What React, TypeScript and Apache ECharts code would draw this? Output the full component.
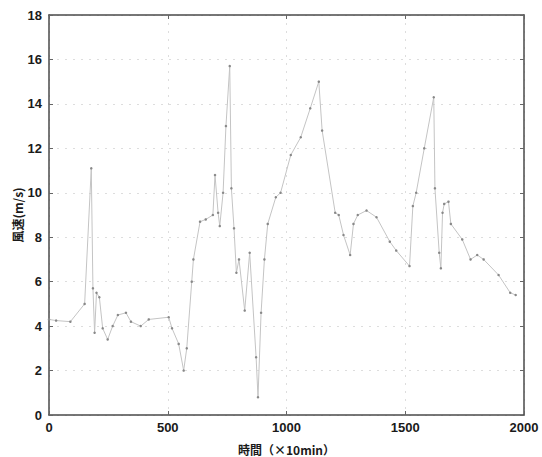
import React, { useEffect, useRef } from "react";
import * as echarts from "echarts";

const timeX = [0, 30, 90, 150, 178, 185, 192, 200, 212, 226, 247, 268, 290, 324, 345, 386, 420, 504, 518, 546, 567, 580, 601, 608, 636, 660, 690, 699, 712, 719, 733, 745, 761, 768, 779, 789, 800, 824, 845, 872, 880, 893, 907, 921, 955, 975, 1018, 1060, 1100, 1136, 1150, 1205, 1220, 1240, 1268, 1282, 1300, 1337, 1379, 1435, 1462, 1518, 1532, 1546, 1580, 1620, 1625, 1643, 1650, 1657, 1664, 1682, 1692, 1740, 1775, 1803, 1830, 1893, 1942, 1965];
const windSpeed = [4.3, 4.25, 4.2, 5.0, 11.1, 5.7, 3.7, 5.5, 5.3, 3.9, 3.4, 4.0, 4.5, 4.6, 4.2, 4.0, 4.3, 4.4, 3.9, 3.2, 2.0, 3.0, 6.0, 7.0, 8.7, 8.8, 9.0, 10.8, 9.1, 8.5, 10.0, 13.0, 15.7, 10.2, 8.4, 6.4, 7.0, 4.7, 7.3, 2.6, 0.8, 4.6, 7.0, 8.6, 9.8, 10.0, 11.7, 12.5, 13.8, 15.0, 12.8, 9.1, 9.0, 8.1, 7.2, 8.6, 9.0, 9.2, 8.9, 7.8, 7.4, 6.7, 9.4, 10.0, 12.0, 14.3, 10.2, 7.3, 6.6, 9.1, 9.5, 9.6, 8.6, 7.9, 7.0, 7.2, 7.0, 6.3, 5.5, 5.4];
const xTicks = [0, 500, 1000, 1500, 2000];
const yTicks = [0, 2, 4, 6, 8, 10, 12, 14, 16, 18];

export default function App() {
  const ref = useRef<HTMLDivElement>(null);
  useEffect(() => {
    const chart = echarts.init(ref.current!, null, { renderer: "svg" });
    const data = timeX.map((x, i) => [x, windSpeed[i]]);
    const labelStyle = {
      color: "#1a1a1a", fontSize: 13, fontFamily: "Liberation Sans, Arial, sans-serif", fontWeight: "bold" as const,
      formatter: (v: number) => String(v),
    };
    const frameLine = { show: true, onZero: false, lineStyle: { color: "#4a4a4a", width: 1.5 } };
    const tick = { show: true, inside: true, length: 4, lineStyle: { color: "#666" } };
    const grid = { show: true, lineStyle: { color: "#ddd", type: [2, 6], width: 1 } };
    chart.setOption({
      animation: false,
      backgroundColor: "#fff",
      grid: { left: 49, right: 18, top: 15, bottom: 42, outerBoundsMode: "none", containLabel: false },
      xAxis: [
        {
          type: "value", min: xTicks[0], max: xTicks[xTicks.length - 1], interval: 500, position: "bottom",
          axisLine: frameLine, axisTick: tick,
          axisLabel: { ...labelStyle, margin: 6 },
          splitLine: grid,
          name: "時間（×10min）", nameLocation: "middle", nameGap: 28,
          nameTextStyle: { color: "#1a1a1a", fontSize: 12, fontFamily: "Noto Sans CJK JP, sans-serif", fontWeight: "bold" },
        },
        {
          type: "value", min: 0, max: 2000, interval: 500, position: "top",
          axisLine: frameLine, axisTick: tick,
          axisLabel: { show: false }, splitLine: { show: false },
        },
      ],
      yAxis: [
        {
          type: "value", min: yTicks[0], max: yTicks[yTicks.length - 1], interval: 2, position: "left",
          axisLine: frameLine, axisTick: tick,
          axisLabel: { ...labelStyle, margin: 7 },
          splitLine: grid,
          name: "風速(m/s)", nameLocation: "middle", nameGap: 26, nameRotate: 90, nameMoveOverlap: false,
          nameTextStyle: { color: "#1a1a1a", fontSize: 12, fontFamily: "Noto Sans CJK JP, sans-serif", fontWeight: "bold" },
        },
        {
          type: "value", min: 0, max: 18, interval: 2, position: "right",
          axisLine: frameLine, axisTick: tick,
          axisLabel: { show: false }, splitLine: { show: false },
        },
      ],
      series: [
        {
          type: "line",
          data,
          xAxisIndex: 0,
          yAxisIndex: 0,
          symbol: "circle",
          symbolSize: 2.5,
          itemStyle: { color: "#888" },
          lineStyle: { color: "#c4c4c4", width: 1 },
        },
      ],
    });
    return () => chart.dispose();
  }, []);
  return <div ref={ref} style={{ position: "fixed", left: 0, top: 0, width: 542, height: 457 }} />;
}
